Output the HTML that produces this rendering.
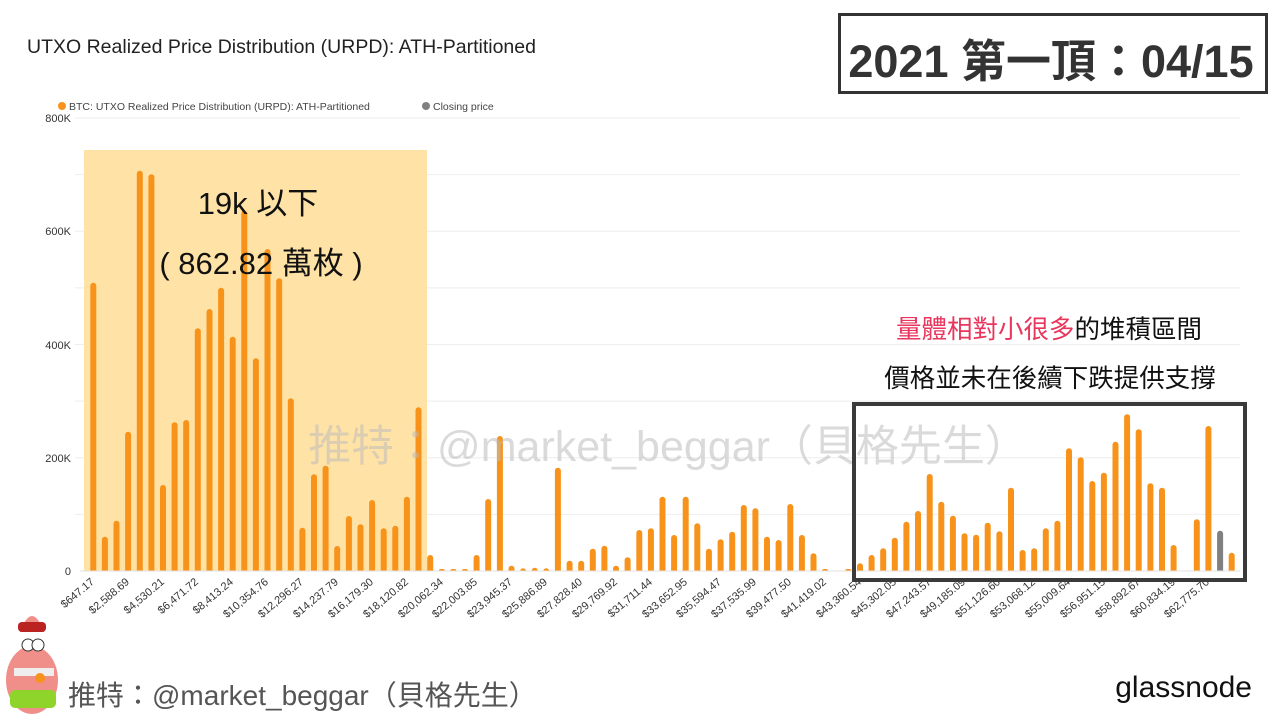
<!DOCTYPE html>
<html><head><meta charset="utf-8"><style>
html,body{margin:0;padding:0;background:#fff;}
svg{display:block;font-family:"Liberation Sans","Noto Sans CJK TC",sans-serif;}
</style></head><body>
<svg width="1280" height="720" viewBox="0 0 1280 720" xmlns="http://www.w3.org/2000/svg">
<rect width="1280" height="720" fill="#fff"/>
<text x="27" y="53" font-size="19.5" fill="#222">UTXO Realized Price Distribution (URPD): ATH-Partitioned</text>
<circle cx="62" cy="106" r="4" fill="#f7931a"/>
<text x="69" y="110" font-size="10.5" fill="#444">BTC: UTXO Realized Price Distribution (URPD): ATH-Partitioned</text>
<circle cx="426" cy="106" r="4" fill="#808080"/>
<text x="433" y="110" font-size="10.5" fill="#444">Closing price</text>
<g stroke="#eeeeee" stroke-width="1">
<line x1="75" y1="118" x2="1240" y2="118"/><line x1="75" y1="174.6" x2="1240" y2="174.6"/><line x1="75" y1="231.3" x2="1240" y2="231.3"/><line x1="75" y1="287.9" x2="1240" y2="287.9"/><line x1="75" y1="344.5" x2="1240" y2="344.5"/><line x1="75" y1="401.1" x2="1240" y2="401.1"/><line x1="75" y1="457.8" x2="1240" y2="457.8"/><line x1="75" y1="514.4" x2="1240" y2="514.4"/>
</g>
<g font-size="11" fill="#333" text-anchor="end">
<text x="71" y="122">800K</text><text x="71" y="235">600K</text><text x="71" y="349">400K</text><text x="71" y="462">200K</text><text x="71" y="575">0</text>
</g>
<rect x="84" y="150" width="343" height="421" fill="#ffe3a6"/>
<g fill="#f7931a">
<rect x="90.3" y="282.7" width="6" height="291" rx="3"/>
<rect x="101.9" y="536.7" width="6" height="37" rx="3"/>
<rect x="113.5" y="520.7" width="6" height="53" rx="3"/>
<rect x="125.1" y="431.7" width="6" height="142" rx="3"/>
<rect x="136.8" y="170.7" width="6" height="403" rx="3"/>
<rect x="148.4" y="174.3" width="6" height="399" rx="3"/>
<rect x="160.0" y="485" width="6" height="89" rx="3"/>
<rect x="171.6" y="422.3" width="6" height="151" rx="3"/>
<rect x="183.2" y="420" width="6" height="154" rx="3"/>
<rect x="194.8" y="328.3" width="6" height="245" rx="3"/>
<rect x="206.5" y="309" width="6" height="265" rx="3"/>
<rect x="218.1" y="287.7" width="6" height="286" rx="3"/>
<rect x="229.7" y="336.7" width="6" height="237" rx="3"/>
<rect x="241.3" y="210.7" width="6" height="363" rx="3"/>
<rect x="252.9" y="358.3" width="6" height="215" rx="3"/>
<rect x="264.5" y="249" width="6" height="325" rx="3"/>
<rect x="276.2" y="278.3" width="6" height="295" rx="3"/>
<rect x="287.8" y="398.3" width="6" height="175" rx="3"/>
<rect x="299.4" y="527.7" width="6" height="46" rx="3"/>
<rect x="311.0" y="474.3" width="6" height="99" rx="3"/>
<rect x="322.6" y="465.7" width="6" height="108" rx="3"/>
<rect x="334.2" y="546" width="6" height="28" rx="3"/>
<rect x="345.9" y="516" width="6" height="58" rx="3"/>
<rect x="357.5" y="524.3" width="6" height="49" rx="3"/>
<rect x="369.1" y="500" width="6" height="74" rx="3"/>
<rect x="380.7" y="528.3" width="6" height="45" rx="3"/>
<rect x="392.3" y="525.7" width="6" height="48" rx="3"/>
<rect x="403.9" y="496.7" width="6" height="77" rx="3"/>
<rect x="415.5" y="407.3" width="6" height="166" rx="3"/>
<rect x="427.2" y="555" width="6" height="19" rx="3"/>
<rect x="438.8" y="569" width="6" height="5" rx="2"/>
<rect x="450.4" y="569" width="6" height="5" rx="2"/>
<rect x="462.0" y="569" width="6" height="5" rx="2"/>
<rect x="473.6" y="555" width="6" height="19" rx="3"/>
<rect x="485.2" y="499" width="6" height="75" rx="3"/>
<rect x="496.9" y="436" width="6" height="138" rx="3"/>
<rect x="508.5" y="565.7" width="6" height="8" rx="3"/>
<rect x="520.1" y="568.3" width="6" height="6" rx="3"/>
<rect x="531.7" y="567.7" width="6" height="6" rx="3"/>
<rect x="543.3" y="568.3" width="6" height="6" rx="3"/>
<rect x="554.9" y="467.7" width="6" height="106" rx="3"/>
<rect x="566.6" y="560.7" width="6" height="13" rx="3"/>
<rect x="578.2" y="560.7" width="6" height="13" rx="3"/>
<rect x="589.8" y="548.7" width="6" height="25" rx="3"/>
<rect x="601.4" y="545.7" width="6" height="28" rx="3"/>
<rect x="613.0" y="565.7" width="6" height="8" rx="3"/>
<rect x="624.6" y="557.3" width="6" height="17" rx="3"/>
<rect x="636.3" y="530" width="6" height="44" rx="3"/>
<rect x="647.9" y="528.3" width="6" height="45" rx="3"/>
<rect x="659.5" y="496.7" width="6" height="77" rx="3"/>
<rect x="671.1" y="535" width="6" height="39" rx="3"/>
<rect x="682.7" y="496.7" width="6" height="77" rx="3"/>
<rect x="694.3" y="523.3" width="6" height="50" rx="3"/>
<rect x="705.9" y="548.7" width="6" height="25" rx="3"/>
<rect x="717.6" y="539.3" width="6" height="34" rx="3"/>
<rect x="729.2" y="531.7" width="6" height="42" rx="3"/>
<rect x="740.8" y="505" width="6" height="69" rx="3"/>
<rect x="752.4" y="508.3" width="6" height="65" rx="3"/>
<rect x="764.0" y="536.7" width="6" height="37" rx="3"/>
<rect x="775.6" y="540" width="6" height="34" rx="3"/>
<rect x="787.3" y="504" width="6" height="70" rx="3"/>
<rect x="798.9" y="535" width="6" height="39" rx="3"/>
<rect x="810.5" y="553.3" width="6" height="20" rx="3"/>
<rect x="822.1" y="569" width="6" height="5" rx="2"/>
<rect x="845.3" y="569" width="6" height="5" rx="2"/>
<rect x="857.0" y="563.3" width="6" height="10" rx="3"/>
<rect x="868.6" y="555" width="6" height="19" rx="3"/>
<rect x="880.2" y="548.3" width="6" height="25" rx="3"/>
<rect x="891.8" y="537.7" width="6" height="36" rx="3"/>
<rect x="903.4" y="521.7" width="6" height="52" rx="3"/>
<rect x="915.0" y="511" width="6" height="63" rx="3"/>
<rect x="926.7" y="474" width="6" height="100" rx="3"/>
<rect x="938.3" y="501.7" width="6" height="72" rx="3"/>
<rect x="949.9" y="515.7" width="6" height="58" rx="3"/>
<rect x="961.5" y="533.3" width="6" height="40" rx="3"/>
<rect x="973.1" y="534.7" width="6" height="39" rx="3"/>
<rect x="984.7" y="522.7" width="6" height="51" rx="3"/>
<rect x="996.4" y="531.3" width="6" height="42" rx="3"/>
<rect x="1008.0" y="487.7" width="6" height="86" rx="3"/>
<rect x="1019.6" y="550" width="6" height="24" rx="3"/>
<rect x="1031.2" y="548.3" width="6" height="25" rx="3"/>
<rect x="1042.8" y="528.3" width="6" height="45" rx="3"/>
<rect x="1054.4" y="520.7" width="6" height="53" rx="3"/>
<rect x="1066.0" y="448.3" width="6" height="125" rx="3"/>
<rect x="1077.7" y="457.3" width="6" height="116" rx="3"/>
<rect x="1089.3" y="481" width="6" height="93" rx="3"/>
<rect x="1100.9" y="472.7" width="6" height="101" rx="3"/>
<rect x="1112.5" y="441.7" width="6" height="132" rx="3"/>
<rect x="1124.1" y="414.3" width="6" height="159" rx="3"/>
<rect x="1135.7" y="429.3" width="6" height="144" rx="3"/>
<rect x="1147.4" y="483.3" width="6" height="90" rx="3"/>
<rect x="1159.0" y="487.7" width="6" height="86" rx="3"/>
<rect x="1170.6" y="545" width="6" height="29" rx="3"/>
<rect x="1193.8" y="519.3" width="6" height="54" rx="3"/>
<rect x="1205.4" y="426" width="6" height="148" rx="3"/>
<rect x="1228.7" y="552.7" width="6" height="21" rx="3"/>
</g>
<rect x="1217.1" y="530.7" width="6" height="43" rx="3" fill="#808080"/>
<rect x="80" y="571" width="1170" height="6" fill="#fff"/>
<line x1="80" y1="571" x2="1240" y2="571" stroke="#e0e0e0"/>
<g font-size="11" fill="#333" text-anchor="end">
<text transform="translate(95,583) rotate(-40)">$647.17</text>
<text transform="translate(130,583) rotate(-40)">$2,588.69</text>
<text transform="translate(165,583) rotate(-40)">$4,530.21</text>
<text transform="translate(199,583) rotate(-40)">$6,471.72</text>
<text transform="translate(234,583) rotate(-40)">$8,413.24</text>
<text transform="translate(269,583) rotate(-40)">$10,354.76</text>
<text transform="translate(304,583) rotate(-40)">$12,296.27</text>
<text transform="translate(339,583) rotate(-40)">$14,237.79</text>
<text transform="translate(374,583) rotate(-40)">$16,179.30</text>
<text transform="translate(409,583) rotate(-40)">$18,120.82</text>
<text transform="translate(444,583) rotate(-40)">$20,062.34</text>
<text transform="translate(478,583) rotate(-40)">$22,003.85</text>
<text transform="translate(513,583) rotate(-40)">$23,945.37</text>
<text transform="translate(548,583) rotate(-40)">$25,886.89</text>
<text transform="translate(583,583) rotate(-40)">$27,828.40</text>
<text transform="translate(618,583) rotate(-40)">$29,769.92</text>
<text transform="translate(653,583) rotate(-40)">$31,711.44</text>
<text transform="translate(688,583) rotate(-40)">$33,652.95</text>
<text transform="translate(722,583) rotate(-40)">$35,594.47</text>
<text transform="translate(757,583) rotate(-40)">$37,535.99</text>
<text transform="translate(792,583) rotate(-40)">$39,477.50</text>
<text transform="translate(827,583) rotate(-40)">$41,419.02</text>
<text transform="translate(862,583) rotate(-40)">$43,360.54</text>
<text transform="translate(897,583) rotate(-40)">$45,302.05</text>
<text transform="translate(932,583) rotate(-40)">$47,243.57</text>
<text transform="translate(966,583) rotate(-40)">$49,185.09</text>
<text transform="translate(1001,583) rotate(-40)">$51,126.60</text>
<text transform="translate(1036,583) rotate(-40)">$53,068.12</text>
<text transform="translate(1071,583) rotate(-40)">$55,009.64</text>
<text transform="translate(1106,583) rotate(-40)">$56,951.15</text>
<text transform="translate(1141,583) rotate(-40)">$58,892.67</text>
<text transform="translate(1176,583) rotate(-40)">$60,834.19</text>
<text transform="translate(1210,583) rotate(-40)">$62,775.70</text>
</g>
<text x="258" y="214" font-size="31" fill="#111" text-anchor="middle">19k 以下</text>
<text x="261" y="274" font-size="31" fill="#111" text-anchor="middle">(  862.82 萬枚  )</text>
<text x="668" y="461" font-size="43" fill="#bbb" fill-opacity="0.55" text-anchor="middle">推特：@market_beggar（貝格先生）</text>
<rect x="854" y="404" width="391" height="176" fill="none" stroke="#3a3a3a" stroke-width="4"/>
<text x="1049" y="338" font-size="25.5" text-anchor="middle" fill="#111"><tspan fill="#e8365d">量體相對小很多</tspan>的堆積區間</text>
<text x="1050" y="387" font-size="25.5" text-anchor="middle" fill="#111">價格並未在後續下跌提供支撐</text>
<rect x="839.5" y="14.5" width="427" height="78" fill="#fff" stroke="#333" stroke-width="3"/>
<text x="1051" y="77" font-size="45" font-weight="bold" fill="#333" text-anchor="middle">2021 第一頂：04/15</text>
<g>
<ellipse cx="32" cy="680" rx="26" ry="34" fill="#f08f8a"/>
<path d="M20 632 Q32 600 44 632 Z" fill="#f08f8a"/>
<rect x="18" y="622" width="28" height="10" rx="4" fill="#b22"/>
<circle cx="28" cy="645" r="6" fill="#fff" stroke="#333"/><circle cx="38" cy="645" r="6" fill="#fff" stroke="#333"/>
<rect x="14" y="668" width="40" height="8" fill="#eee"/>
<rect x="10" y="690" width="46" height="18" rx="5" fill="#8ed42a"/>
<circle cx="40" cy="678" r="5" fill="#f7931a"/>
</g>
<text x="68" y="705" font-size="28" fill="#555">推特：@market_beggar（貝格先生）</text>
<text x="1252" y="697" font-size="30" fill="#111" text-anchor="end">glassnode</text>
</svg>
</body></html>
